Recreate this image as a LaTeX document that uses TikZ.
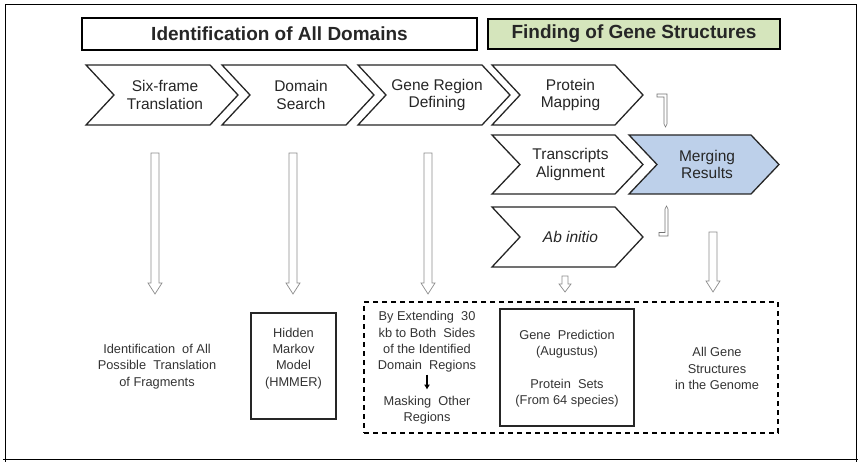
\documentclass[tikz,border=0pt]{standalone}
\usepackage{fontspec}
\setmainfont{Liberation Sans}
\usetikzlibrary{arrows.meta}
\definecolor{hdrgreen}{HTML}{D5E5BC}
\definecolor{mergeblue}{HTML}{BDD0EA}
\newcommand\mychev[7]{%
  \draw[chev, fill=#6] (#2,#3) -- ({#4-28},#3) -- (#4,{(#3+#5)/2}) -- ({#4-28},#5) -- (#2,#5) -- ({#2+28},{(#3+#5)/2}) -- cycle;
  \node[lbl] (#1) at ({(#2+#4)/2+3},{(#3+#5)/2}) {#7};}
\newcommand\harr[7]{% name x top tip shafthalf headhalf headlen
  \draw[hol] ({#2-#5},#3) -- ({#2+#5},#3) -- ({#2+#5},{#4-#7}) -- ({#2+#6},{#4-#7}) -- (#2,#4) -- ({#2-#6},{#4-#7}) -- ({#2-#5},{#4-#7}) -- cycle;
  \coordinate (#1) at (#2,#4);}
\begin{document}
\begin{tikzpicture}[x=1pt,y=-1pt,
  chev/.style={draw=black!85, line width=1.3pt, line join=miter},
  lbl/.style={align=center, font=\fontsize{15.5}{17.5}\selectfont, inner sep=0, text=black!85},
  small/.style={align=center, font=\fontsize{12.8}{16.3}\selectfont, inner sep=0, text=black!80},
  hol/.style={draw=black!45, line width=0.7pt, fill=white},
  hdr/.style={draw=black, line width=1.7pt, inner sep=0, font=\bfseries\fontsize{19}{21}\selectfont, text=black!85},
  glyph/.style={draw=black!55, line width=0.6pt, fill=white}]
\useasboundingbox (0,0) rectangle (861,462);
% frame
\draw[line width=0.9pt] (5,462) -- (5,4) -- (856,4) -- (856,462);
\draw[line width=0.9pt] (3,459) -- (858,459);
% headers
\node[hdr, minimum width=395, minimum height=32] (h1) at (279.5,34) {Identification of All Domains};
\node[hdr, fill=hdrgreen, minimum width=292, minimum height=30] (h2) at (634,34) {Finding of Gene Structures};
% chevrons
\mychev{c1}{86}{65}{238}{125}{white}{Six-frame\\Translation}
\mychev{c2}{222}{65}{374}{125}{white}{Domain\\Search}
\mychev{c3}{358}{65}{510}{125}{white}{Gene Region\\Defining}
\mychev{c4}{492}{65}{643}{125}{white}{Protein\\Mapping}
\mychev{c5}{492}{135}{643}{194}{white}{Transcripts\\Alignment}
\mychev{c6}{629}{135}{779}{194}{mergeblue}{Merging\\Results}
\mychev{c7}{492}{207}{643}{267}{white}{\itshape Ab initio}
% small elbow glyphs
\draw[glyph] (657,94) -- (667,94) -- (667,124) -- (665.5,127) -- (664,124) -- (664,97) -- (657,97) -- cycle;
\draw[glyph] (666.5,206) -- (668,209) -- (668,236) -- (659,236) -- (659,232.5) -- (665,232.5) -- (665,209) -- cycle;
% hollow arrows
\harr{a1}{155}{153}{294}{4}{7}{11}
\harr{a2}{293}{153}{294}{4}{7}{11}
\harr{a3}{428}{153}{294}{4}{7}{11}
\harr{a4}{565}{276}{292}{3}{6}{8}
\harr{a5}{713}{232}{292}{4}{7}{11}
% bottom boxes
\node[draw, dash pattern=on 5pt off 4pt, line width=1.2pt, minimum width=414, minimum height=131, inner sep=0] (dbox) at (571,367.5) {};
\node[draw=black!85, line width=1.3pt, minimum width=134, minimum height=117, inner sep=0] (gbox) at (567,367.5) {};
\node[draw=black!85, line width=1.3pt, minimum width=85, minimum height=106, inner sep=0] (hbox) at (293.5,366) {};
% bottom texts
\node[small] (t1) at (157,366.5) {Identification~ of All\\Possible~ Translation\\of Fragments};
\node[small] (t2) at (293.5,358.5) {Hidden\\Markov\\Model\\(HMMER)};
\node[small] (t3) at (427,342) {By Extending~ 30\\kb to Both~ Sides\\of the Identified\\Domain~ Regions};
\node[small] (t4) at (427,410) {Masking~ Other\\Regions};
\node[small] (t5) at (567,344) {Gene~ Prediction\\(Augustus)};
\node[small] (t6) at (567,393) {Protein~ Sets\\(From 64 species)};
\node[small] (t7) at (717,368.5) {All Gene\\Structures\\in the Genome};
\draw[line width=1.4pt, -{Latex[length=5pt,width=6pt]}] ([yshift=-2pt]t3.south) -- ([yshift=6pt]t4.north);
\end{tikzpicture}
\end{document}
